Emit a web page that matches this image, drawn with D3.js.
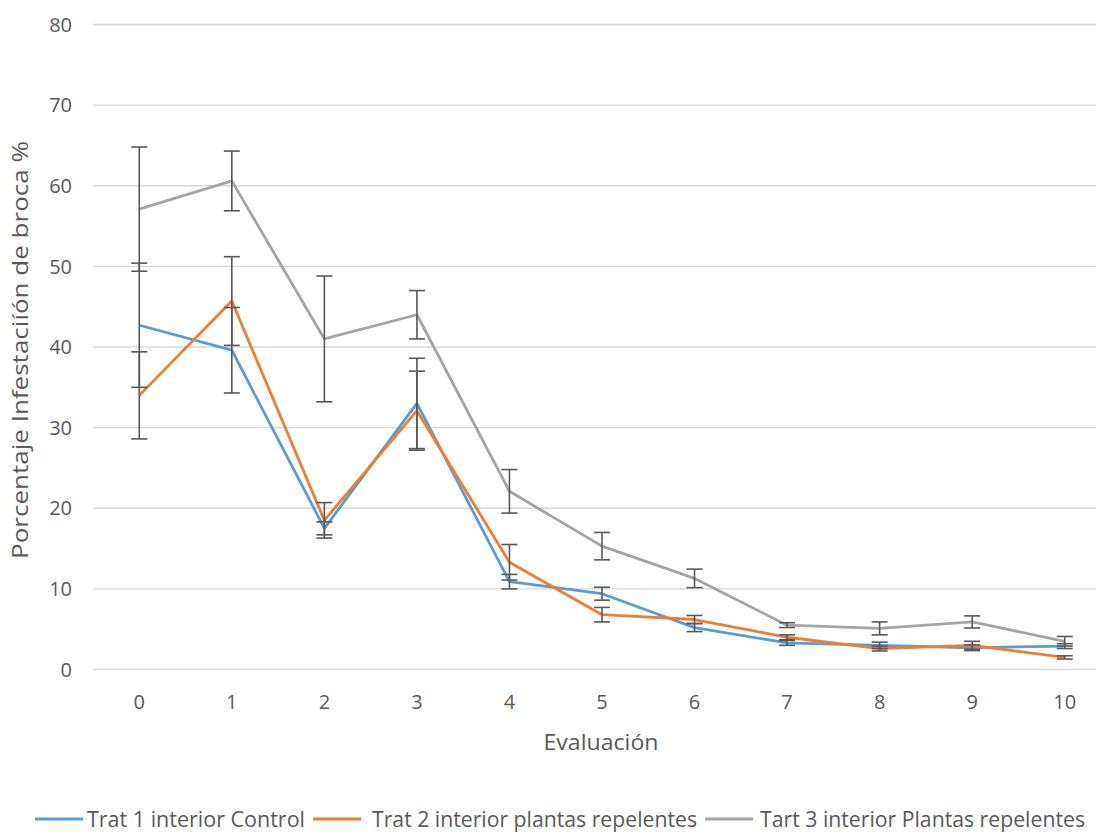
<!DOCTYPE html>
<html>
<head>
<meta charset="utf-8">
<script src="https://cdn.jsdelivr.net/npm/d3@7"></script>
<style>
  body { margin: 0; background: #fff; }
  text { font-family: "Open Sans", "Liberation Sans", sans-serif; fill: #595959; }
</style>
</head>
<body>
<div id="chart"></div>
<script>
// data
const evaluaciones = [0, 1, 2, 3, 4, 5, 6, 7, 8, 9, 10];
const seriesNames = ["Trat 1 interior Control", "Trat 2 interior plantas repelentes", "Tart 3 interior Plantas repelentes"];
const trat1 = [42.7, 39.6, 17.5, 33.0, 10.9, 9.4, 5.2, 3.3, 3.0, 2.7, 2.9];
const trat1Err = [7.7, 5.3, 0.8, 5.6, 0.9, 0.8, 0.5, 0.3, 0.4, 0.35, 0.3];
const trat2 = [34.0, 45.7, 18.5, 32.1, 13.3, 6.8, 6.2, 4.0, 2.6, 3.0, 1.5];
const trat2Err = [5.4, 5.5, 2.2, 4.9, 2.2, 0.9, 0.5, 0.3, 0.3, 0.5, 0.2];
const tart3 = [57.1, 60.6, 41.0, 44.0, 22.1, 15.3, 11.3, 5.5, 5.1, 5.9, 3.5];
const tart3Err = [7.7, 3.7, 7.8, 3.0, 2.7, 1.7, 1.15, 0.3, 0.8, 0.75, 0.6];
const yTicks = [0, 10, 20, 30, 40, 50, 60, 70, 80];
const colors = ["#5B9BD5", "#ED7D31", "#A5A5A5"];

const W = 1096, H = 832;
const svg = d3.select("#chart").append("svg")
  .attr("width", W).attr("height", H);

const x = d3.scalePoint()
  .domain(evaluaciones)
  .range([93, 1111])
  .padding(0.5);

const y = d3.scaleLinear()
  .domain([0, 80])
  .range([669.5, 24.5]);

// gridlines
svg.append("g")
  .selectAll("line")
  .data(yTicks)
  .join("line")
    .attr("x1", 93).attr("x2", W)
    .attr("y1", d => y(d)).attr("y2", d => y(d))
    .attr("stroke", "#D9D9D9")
    .attr("stroke-width", 1.3);

// y axis labels
svg.append("g")
  .selectAll("text")
  .data(yTicks)
  .join("text")
    .attr("x", 72)
    .attr("y", d => y(d))
    .attr("dy", "0.36em")
    .attr("text-anchor", "end")
    .style("font-size", "20px")
    .text(d => d);

// x axis labels
svg.append("g")
  .selectAll("text")
  .data(evaluaciones)
  .join("text")
    .attr("x", d => x(d))
    .attr("y", 702)
    .attr("dy", "0.36em")
    .attr("text-anchor", "middle")
    .style("font-size", "20px")
    .text(d => d);

// axis titles
svg.append("text")
  .attr("x", 601).attr("y", 742)
  .attr("dy", "0.36em")
  .attr("text-anchor", "middle")
  .attr("textLength", 115)
  .attr("lengthAdjust", "spacingAndGlyphs")
  .style("font-size", "21px")
  .text("Evaluación");

svg.append("text")
  .attr("transform", "translate(20, 350) rotate(-90)")
  .attr("dy", "0.36em")
  .attr("text-anchor", "middle")
  .attr("textLength", 418)
  .attr("lengthAdjust", "spacingAndGlyphs")
  .style("font-size", "21px")
  .text("Porcentaje Infestaciíón de broca %");

const series = [
  { name: seriesNames[0], values: trat1, err: trat1Err, color: colors[0] },
  { name: seriesNames[1], values: trat2, err: trat2Err, color: colors[1] },
  { name: seriesNames[2], values: tart3, err: tart3Err, color: colors[2] }
];

const line = d3.line()
  .x((d, i) => x(evaluaciones[i]))
  .y(d => y(d));

// lines
series.forEach(s => {
  svg.append("path")
    .datum(s.values)
    .attr("fill", "none")
    .attr("stroke", s.color)
    .attr("stroke-width", 2.8)
    .attr("stroke-linejoin", "round")
    .attr("d", line);
});

// error bars
const cap = 8;
series.forEach(s => {
  const g = svg.append("g")
    .attr("stroke", "#595959")
    .attr("stroke-width", 1.6);
  s.values.forEach((v, i) => {
    const cx = x(evaluaciones[i]);
    const top = y(v + s.err[i]), bot = y(v - s.err[i]);
    g.append("line").attr("x1", cx).attr("x2", cx).attr("y1", top).attr("y2", bot);
    g.append("line").attr("x1", cx - cap).attr("x2", cx + cap).attr("y1", top).attr("y2", top);
    g.append("line").attr("x1", cx - cap).attr("x2", cx + cap).attr("y1", bot).attr("y2", bot);
  });
});

// legend
const legendPos = [
  { lx: 35, tx: 87, tw: 218 },
  { lx: 313, tx: 372, tw: 325 },
  { lx: 705, tx: 760, tw: 325 }
];
const legend = svg.append("g");
series.forEach((s, i) => {
  const p = legendPos[i];
  legend.append("line")
    .attr("x1", p.lx).attr("x2", p.lx + 48)
    .attr("y1", 819).attr("y2", 819)
    .attr("stroke", s.color)
    .attr("stroke-width", 2.8);
  legend.append("text")
    .attr("x", p.tx).attr("y", 819)
    .attr("dy", "0.36em")
    .attr("textLength", p.tw)
    .attr("lengthAdjust", "spacingAndGlyphs")
    .style("font-size", "21px")
    .text(s.name);
});
</script>
</body>
</html>
